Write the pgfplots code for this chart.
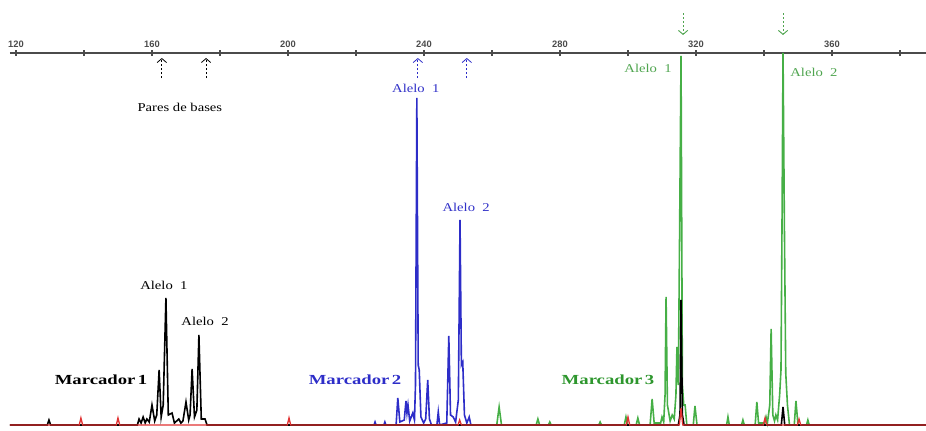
\documentclass[border=0pt]{standalone}
\usepackage{pgfplots}
\pgfplotsset{compat=1.18}
\usetikzlibrary{arrows.meta}
\usepackage{fontspec}
\setmainfont{Liberation Serif}
\setsansfont{Liberation Sans}
\newfontfamily\lab[FakeStretch=1.22]{Liberation Serif}
\newfontfamily\labb[FakeStretch=1.35]{Liberation Serif}
\definecolor{tgreen}{RGB}{70,175,70}
\definecolor{lgreen}{RGB}{80,165,80}
\definecolor{dgreen}{RGB}{45,150,45}
\definecolor{tblue}{RGB}{45,45,200}
\definecolor{lblue}{RGB}{50,50,200}
\definecolor{tred}{RGB}{225,50,50}
\definecolor{axgray}{RGB}{75,75,75}
\begin{document}
\begin{tikzpicture}
\useasboundingbox (0,0) rectangle (694.5pt,322.5pt);
\begin{axis}[
  at={(7.5pt,0pt)}, anchor=south west,
  scale only axis, width=687pt, height=282.75pt,
  xmin=118.24, xmax=387.65, ymin=-5, ymax=372,
  axis x line*=top, axis y line=none,
  axis line style={axgray, line width=0.9pt},
  xtick={120,160,...,360}, minor xtick={140,180,...,380},
  tick align=center, major tick length=4.5pt, minor tick length=4.5pt,
  every tick/.style={axgray, line width=0.8pt},
  /pgf/number format/assume math mode=true,
  /pgf/number format/1000 sep={},
  x tick label style={font=\sffamily\bfseries\fontsize{7}{7}\selectfont, text=axgray, yshift=-1.5pt},
  clip=false,
  every axis plot/.append style={line width=1.2pt, line join=miter},
]
% Blue trace (Marcador 2)
\addplot[tblue] coordinates {
(222,0)(225.3,0)(225.6,3)(225.9,0)(228.2,0)(228.5,3)(228.8,0)(231.8,0)(232.3,27)(232.9,3)
(234.2,5)(234.7,24)(235,12)(235.3,20)(235.8,4)(236.7,12)(237.2,5)(237.5,40)(237.9,327)(238.3,60)
(238.6,55)(239.1,8)(239.9,2)(240.5,6)(241.1,45)(241.6,6)(242.2,0)(243.8,0)(244.2,13)(244.6,0)
(246.7,2)(247.3,89)(247.8,10)(248.6,8)(249.3,3)(250.1,25)(250.6,205)(251,60)(251.4,63)(251.9,10)
(252.6,2)(253.3,8)(253.8,0)(256,0)};
% Green trace (Marcador 3)
\addplot[tgreen] coordinates {
(255,0)(261.4,0)(262.1,18)(262.8,0)(273,0)(273.5,6)(274,0)(276.6,0)(277,3)(277.4,0)
(291.4,0)(291.8,3)(292.2,0)(298.9,0)(299.4,8)(299.9,0)(302.4,0)(302.9,7)(303.4,0)(306.5,0)
(307.1,26)(307.7,2)(309.6,2)(310,8)(310.5,3)(310.9,30)(311.2,128)(311.6,20)(312.4,4)(313,10)
(313.6,6)(314.1,30)(314.4,78)(314.8,40)(315.2,200)(315.6,369)(316,40)(316.4,20)(316.8,20)(317.3,0)
(319.2,0)(319.7,19)(320.3,0)(329,0)(329.4,8)(329.8,0)(333.4,0)(333.8,5)(334.2,0)(337.4,0)
(337.9,23)(338.4,2)(340.2,2)(340.6,8)(341,2)(341.7,20)(342.1,96)(342.6,10)(343.1,4)(343.5,10)
(344,5)(344.6,30)(345,55)(345.3,200)(345.6,372)(346,200)(346.4,52)(346.9,20)(347.5,0)(348.9,0)
(349.4,24)(350,0)(352.5,0)(352.9,5)(353.3,0)(356,0)};
% Black trace (Marcador 1)
\addplot[black] coordinates {
(118.24,0)(129.2,0)(129.7,5)(130.2,0)(155.7,0)(156.2,6)(156.8,2)(157.4,8)(158,2)(158.5,6)
(159.2,3)(160,20)(160.8,4)(161.4,10)(162.1,55)(162.7,8)(163.3,20)(164.1,127)(164.8,10)(165.9,12)
(166.6,2)(167.9,6)(168.5,2)(169.1,4)(170,23)(170.8,5)(171.2,10)(171.8,56)(172.5,8)(173.2,15)
(173.8,90)(174.5,6)(175.6,6)(176.2,0)(314.8,0)(315.3,10)(315.6,125)(316,10)(316.5,0)(345.1,0)
(345.6,18)(346.1,0)(387.65,0)};
% Red trace (size standard)
\addplot[tred, line width=1pt] coordinates {
(118.24,0)(138.6,0)(139.1,7)(139.6,0)(149.5,0)(150,7)(150.5,0)(199.8,0)(200.3,7)(200.8,0)
(250,0)(250.5,5)(251,0)(299.5,0)(300,8)(300.5,0)(315.1,0)(315.6,17)(316.1,0)(339.8,0)
(340.3,7)(340.8,0)(349.8,0)(350.3,6)(350.8,0)(387.65,0)};
% arrows
\draw[lgreen, line width=0.7pt, dash pattern=on 1.6pt off 1.4pt, -{Straight Barb[length=3pt,width=7pt]}] (axis cs:316.2,412) -- (axis cs:316.2,390);
\draw[lgreen, line width=0.7pt, dash pattern=on 1.6pt off 1.4pt, -{Straight Barb[length=3pt,width=7pt]}] (axis cs:345.6,412) -- (axis cs:345.6,390);
\draw[black, line width=0.6pt, dash pattern=on 1.6pt off 1.4pt, -{Straight Barb[length=3pt,width=7pt]}] (axis cs:162.9,347) -- (axis cs:162.9,367);
\draw[black, line width=0.6pt, dash pattern=on 1.6pt off 1.4pt, -{Straight Barb[length=3pt,width=7pt]}] (axis cs:175.9,347) -- (axis cs:175.9,367);
\draw[tblue, line width=0.6pt, dash pattern=on 1.6pt off 1.4pt, -{Straight Barb[length=3pt,width=7pt]}] (axis cs:238.2,347) -- (axis cs:238.2,367);
\draw[tblue, line width=0.6pt, dash pattern=on 1.6pt off 1.4pt, -{Straight Barb[length=3pt,width=7pt]}] (axis cs:252.6,347) -- (axis cs:252.6,367);
% labels
\node[font=\lab\fontsize{9}{9}\selectfont] at (axis cs:168.2,318) {Pares de bases};
\node[font=\lab\fontsize{9}{9}\selectfont] at (axis cs:163.5,140) {Alelo\ \ 1};
\node[font=\lab\fontsize{9}{9}\selectfont] at (axis cs:175.6,104) {Alelo\ \ 2};
\node[font=\labb\bfseries\fontsize{10.4}{10.4}\selectfont] at (axis cs:145,45) {Marcador\,1};
\node[font=\lab\fontsize{9}{9}\selectfont, text=lblue] at (axis cs:237.6,337) {Alelo\ \ 1};
\node[font=\lab\fontsize{9}{9}\selectfont, text=lblue] at (axis cs:252.4,218) {Alelo\ \ 2};
\node[font=\labb\bfseries\fontsize{10.4}{10.4}\selectfont, text=tblue] at (axis cs:219.7,45) {Marcador\,2};
\node[font=\lab\fontsize{9}{9}\selectfont, text=lgreen] at (axis cs:305.9,357) {Alelo\ \ 1};
\node[font=\lab\fontsize{9}{9}\selectfont, text=lgreen] at (axis cs:354.7,353) {Alelo\ \ 2};
\node[font=\labb\bfseries\fontsize{10.4}{10.4}\selectfont, text=dgreen] at (axis cs:294.1,45) {Marcador\,3};
\end{axis}
\end{tikzpicture}
\end{document}
